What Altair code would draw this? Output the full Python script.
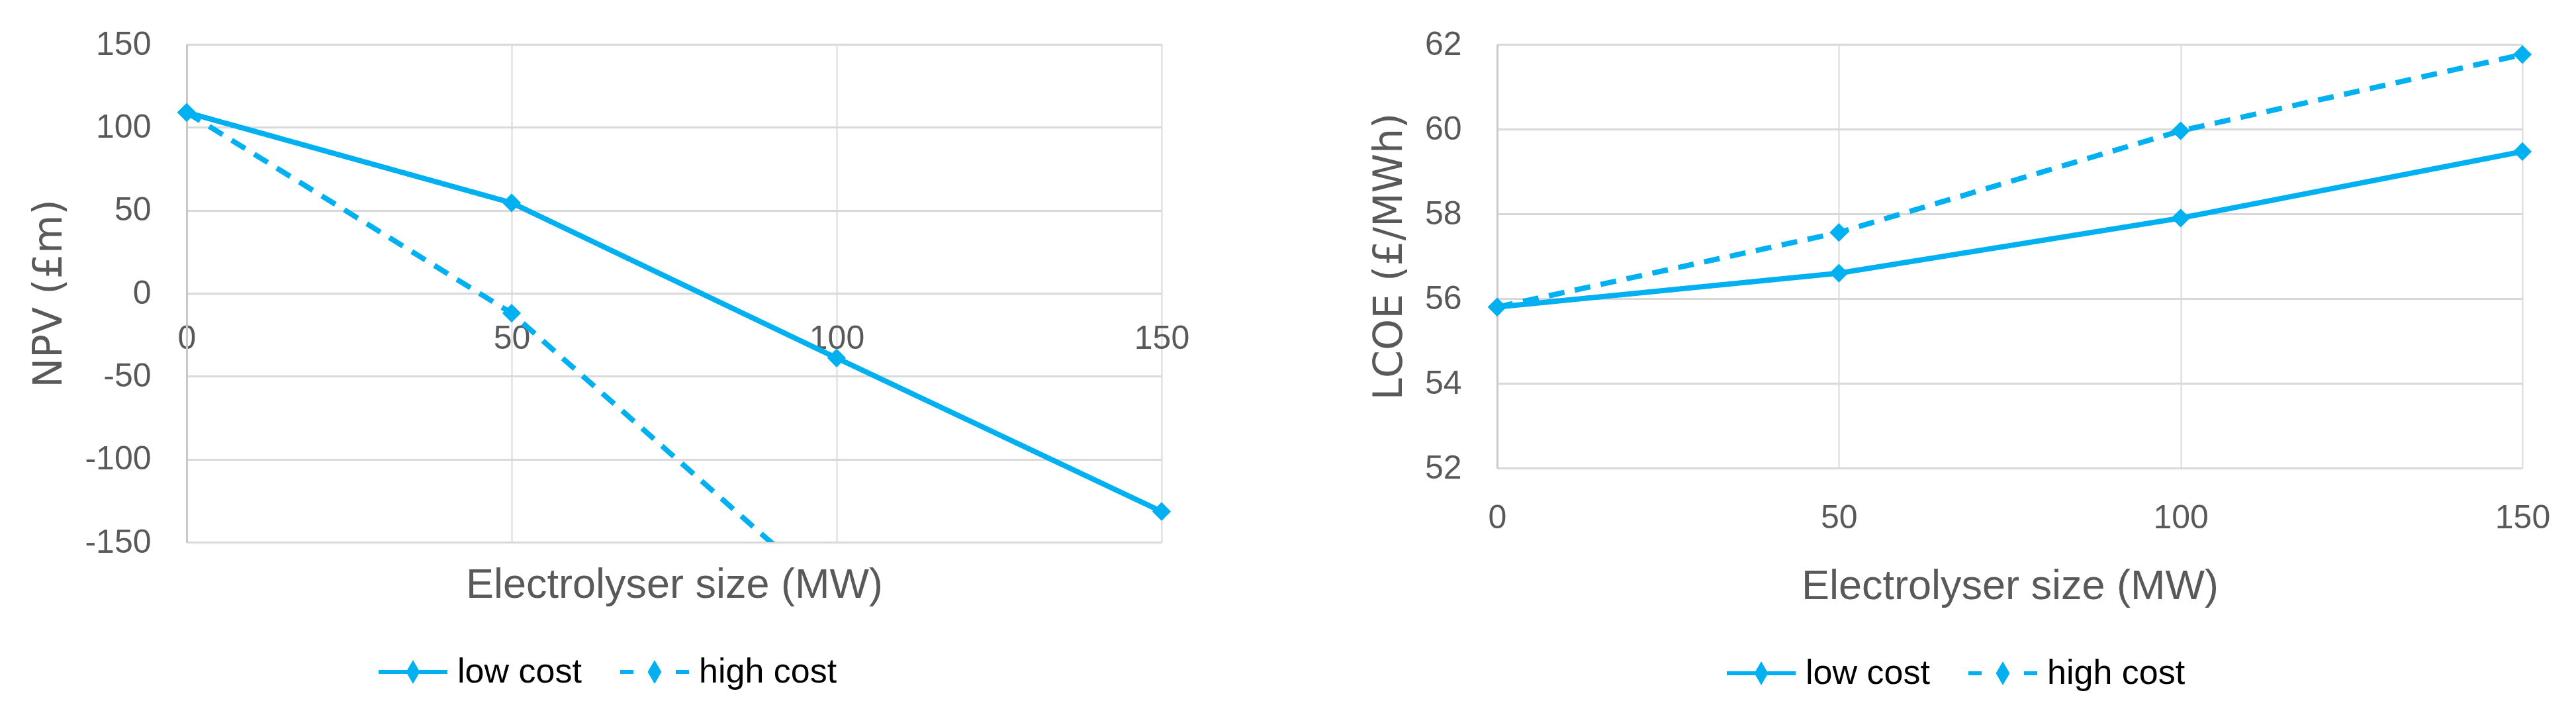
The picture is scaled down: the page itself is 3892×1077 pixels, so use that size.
import altair as alt
import pandas as pd

# ---------------- data ----------------
sizes = [0, 50, 100, 150]
series_names = ["low cost", "high cost"]
npv_low = [109, 54.5, -39, -131.5]
npv_high = [109, -12, -185, -358]
lcoe_low = [55.8, 56.6, 57.9, 59.47]
lcoe_high = [55.8, 57.56, 59.96, 61.76]
x_ticks = [0, 50, 100, 150]
npv_ticks = [-150, -100, -50, 0, 50, 100, 150]
lcoe_ticks = [52, 54, 56, 58, 60, 62]

BLUE = "#00B0F0"
GRID = "#d9d9d9"
TXT = "#595959"
FONT = "Liberation Sans"
_DIAMONDS = ("M0,-1.2L0.7,0L0,1.2L-0.7,0Z"
             "M0,-0.8L0.45,0L0,0.8L-0.45,0Z"
             "M0,-0.4L0.2,0L0,0.4L-0.2,0Z")
LEG_SOLID = "M-5.2,0L5.2,0" + _DIAMONDS
LEG_DASH = "M-5.2,0L-3.2,0M3.2,0L5.2,0" + _DIAMONDS


def frame(low, high):
    rows = []
    for name, vals in zip(series_names, [low, high]):
        for s, v in zip(sizes, vals):
            rows.append({"size": s, "value": v, "series": name})
    return pd.DataFrame(rows)


def panel(df, ydom, yticks, ytitle, w, h, xoff, xlabpad, xtitley, legx, legy):
    x = alt.X(
        "size:Q",
        scale=alt.Scale(domain=[0, 150], nice=False, zero=False),
        axis=alt.Axis(
            values=x_ticks, title="Electrolyser size (MW)", offset=xoff,
            grid=True, gridColor=GRID, gridWidth=2, domain=False, ticks=False, tickSize=0,
            labelFont=FONT, labelFontSize=50, labelColor=TXT, labelPadding=xlabpad,
            labelBaseline="alphabetic", labelFlush=False,
            titleFont=FONT, titleFontSize=63, titleColor=TXT, titleFontWeight="normal",
            titleBaseline="alphabetic", titleY=xtitley,
        ),
    )
    y = alt.Y(
        "value:Q",
        scale=alt.Scale(domain=ydom, nice=False, zero=False),
        axis=alt.Axis(
            values=yticks, title=ytitle, grid=True, gridColor=GRID, gridWidth=3,
            domain=True, domainColor="#c8c8c8", domainWidth=3, ticks=False, tickSize=0,
            labelFont=FONT, labelFontSize=50, labelColor=TXT, labelPadding=54,
            labelExpr="toString(datum.value)",
            titleFont="DejaVu Sans", titleFontSize=60, titleColor=TXT,
            titleFontWeight="normal", titlePadding=22,
        ),
    )
    dash = alt.StrokeDash(
        "series:N",
        sort=series_names,
        scale=alt.Scale(range=[[1, 0], [24, 16]]),
        legend=None,
    )
    line = alt.Chart(df).mark_line(color=BLUE, strokeWidth=8, clip=True).encode(
        x=x, y=y, strokeDash=dash
    )
    pts = (
        alt.Chart(df)
        .transform_filter((alt.datum.value >= ydom[0]) & (alt.datum.value <= ydom[1]))
        .mark_point(shape="diamond", filled=True, color=BLUE, size=800, opacity=1)
        .encode(x=x, y=y)
    )
    leg = alt.Chart(df).mark_point(
        filled=False, color=BLUE, strokeWidth=6, opacity=1, clip=True
    ).encode(
        x=alt.value(-5000),
        y=alt.value(-5000),
        shape=alt.Shape(
            "series:N",
            scale=alt.Scale(domain=series_names, range=[LEG_SOLID, LEG_DASH]),
            legend=alt.Legend(
                title=None, orient="none", legendX=legx, legendY=legy,
                direction="horizontal", labelFont=FONT, labelFontSize=52,
                labelColor="#000000", labelLimit=600, symbolSize=400,
                symbolStrokeWidth=6, symbolStrokeColor=BLUE,
                symbolOffset=42, labelOffset=41, columnPadding=42,
            ),
        ),
    )
    return alt.layer(line, pts, leg).properties(width=w, height=h)


left = panel(frame(npv_low, npv_high), [-150, 150], npv_ticks, "NPV (£m)",
             1473, 752, -376, 83, 459, 274, 922)
right = panel(frame(lcoe_low, lcoe_high), [52, 62], lcoe_ticks, "LCOE (£/MWh)",
              1549, 640, 0, 90, 197, 331, 924)

chart = (
    alt.hconcat(left, right, spacing=272)
    .resolve_scale(x="independent", y="independent", shape="independent", strokeDash="independent")
    .resolve_legend(shape="independent")
    .configure_view(stroke=None)
    .properties(padding={"left": 36, "top": 34, "right": 5, "bottom": 5}, background="white")
)

chart.save("out.html", embed_options={"renderer": "svg", "actions": False})
